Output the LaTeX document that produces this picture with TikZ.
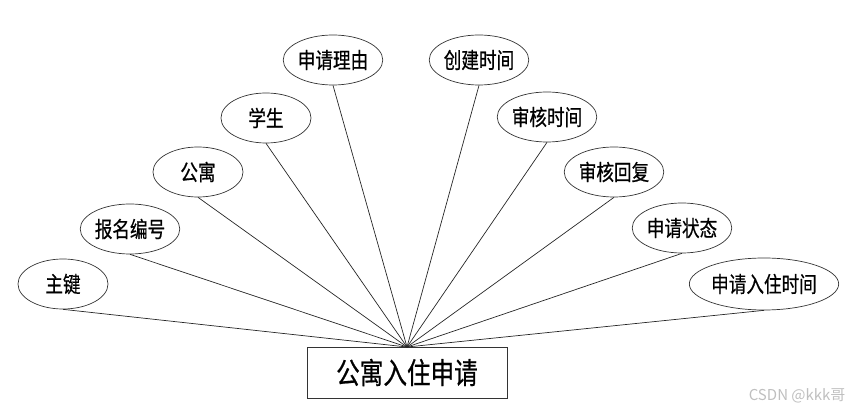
\documentclass[tikz,border=0pt]{standalone}
\usepackage{fontspec}
\newfontfamily\cjk[FakeStretch=0.8,FakeBold=0.6]{Noto Sans CJK SC}
\newfontfamily\wm{Noto Sans CJK SC}
\usetikzlibrary{shapes.geometric}
\begin{document}
\begin{tikzpicture}[x=1pt,y=-1pt,
  attr/.style={ellipse,draw=black!80,line width=0.7pt,minimum width=90pt,minimum height=50pt,inner sep=0pt,font=\cjk\fontsize{22}{24}\selectfont},
  ent/.style={rectangle,draw=black!80,line width=0.8pt,minimum width=200pt,minimum height=51pt,inner sep=0pt,font=\cjk\fontsize{29.5}{32}\selectfont},
  link/.style={draw=black!85,line width=0.7pt}]
\path[use as bounding box] (0,0) rectangle (853,411);
\node[ent] (e) at (407,372.5) {公寓入住申请};
\coordinate (hub) at (407,347);
\node[attr] (a1) at (63,284) {主键};
\node[attr] (a2) at (130,229) {报名编号};
\node[attr] (a3) at (198,172) {公寓};
\node[attr] (a4) at (266,118) {学生};
\node[attr] (a5) at (333,60) {申请理由};
\node[attr] (a6) at (479,60) {创建时间};
\node[attr] (a7) at (547,117) {审核时间};
\node[attr] (a8) at (614,172) {审核回复};
\node[attr] (a9) at (682,228) {申请状态};
\node[attr,minimum width=117pt,minimum height=52pt] (a10) at (764,284) {申请入住时间};
\foreach \n in {a1,a2,a3,a4,a5,a6,a7,a8,a9,a10}
  \draw[link] (\n.south) -- (hub);
\node[font=\wm\fontsize{15}{17}\selectfont,text=black!25,anchor=east] (wmk) at (849,396) {CSDN @kkk哥};
\end{tikzpicture}
\end{document}
